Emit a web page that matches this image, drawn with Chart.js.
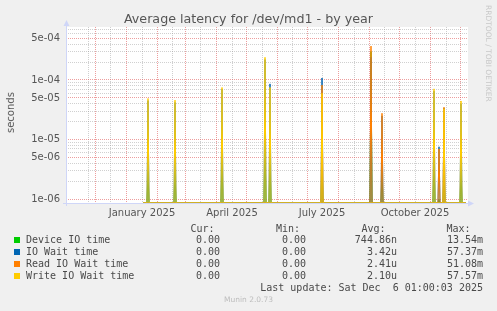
<!DOCTYPE html>
<html><head><meta charset="utf-8">
<script src="https://cdn.jsdelivr.net/npm/chart.js@4/dist/chart.umd.min.js"></script>
<style>
html,body{margin:0;padding:0;background:#F0F0F0;}
#wrap{position:relative;width:497px;height:311px;overflow:hidden;background:#F0F0F0;}
canvas{position:absolute;left:0;top:0;}
.m{position:absolute;white-space:pre;font-family:"DejaVu Sans Mono",monospace;font-size:10px;line-height:12px;color:#4a4a4a;}
.r{text-align:right;}
.sq{position:absolute;width:6px;height:6px;}
#title{position:absolute;left:0;width:497px;top:11px;text-align:center;font-family:"DejaVu Sans",sans-serif;font-size:12.7px;line-height:16px;color:#555;}
#ylab{position:absolute;left:5px;top:85px;width:12px;height:56px;writing-mode:vertical-rl;transform:rotate(180deg);text-align:center;font-family:"DejaVu Sans",sans-serif;font-size:10px;line-height:12px;color:#555;white-space:nowrap;}
#rrd{position:absolute;left:483px;top:5px;writing-mode:vertical-rl;font-family:"DejaVu Sans",sans-serif;font-size:7.5px;line-height:10px;color:#c8c8c8;white-space:nowrap;}
#munin{position:absolute;left:0;width:497px;top:295px;text-align:center;font-family:"DejaVu Sans",sans-serif;font-size:7.5px;line-height:10px;color:#bdbdbd;}
</style></head>
<body>
<div id="wrap">
<canvas id="c" width="497" height="311"></canvas>
<div id="title">Average latency for /dev/md1 - by year</div>
<div id="ylab">seconds</div>
<div id="rrd">RRDTOOL / TOBI OETIKER</div>
<div id="legend"></div>
<div id="munin">Munin 2.0.73</div>
</div>
<script>
// ---- data (day index 0 = left edge of plot, ~2 Nov 2024) ----
const seriesNames = ["Device IO time", "IO Wait time", "Read IO Wait time", "Write IO Wait time"];
const seriesColors = ["#00CC00", "#0066B3", "#FF8000", "#FFCC00"];
const dataStartDay = 77;
const dataEndDay = 400;
const spikeDays = [82, 109, 156, 199, 204, 256, 305, 316, 368, 373, 378, 395];
const deviceIO  = [3e-6, 3e-6, 5e-6, 1e-5, 5e-6, 5e-6, 3.0e-4, 3e-6, 5e-6, 1e-6, 3e-6, 3e-6];
const ioWait    = [4.5e-5, 4.2e-5, 7.0e-5, 2.2e-4, 8.6e-5, 1.08e-4, 2.4e-4, 2.5e-5, 6.5e-5, 7.6e-6, 3.4e-5, 4.0e-5];
const readWait  = [0, 0, 0, 0, 0, 8.2e-5, 3.7e-4, 2.77e-5, 0, 7.0e-6, 3.5e-5, 0];
const writeWait = [4.9e-5, 4.6e-5, 7.5e-5, 2.4e-4, 7.5e-5, 6.0e-5, 0, 0, 7.1e-5, 0, 3.3e-5, 4.45e-5];

const curVals = ["0.00", "0.00", "0.00", "0.00"];
const minVals = ["0.00", "0.00", "0.00", "0.00"];
const avgVals = ["744.86n", "3.42u", "2.41u", "2.10u"];
const maxVals = ["13.54m", "57.37m", "51.08m", "57.57m"];
const lastUpdate = "Last update: Sat Dec  6 01:00:03 2025";

// ticks
const monthStartDays = [29, 60, 91, 119, 150, 180, 211, 241, 272, 303, 333, 364, 394];
const midMonthDays   = [22, 44, 76, 106, 134, 166, 196, 226, 256, 288, 318, 349, 380];
const xLabelDays     = [76, 166, 256, 349];
const xLabels        = ["January 2025", "April 2025", "July 2025", "October 2025"];
const yMajorVals   = [1e-6, 5e-6, 1e-5, 5e-5, 1e-4, 5e-4];
const yTickLabels  = ["1e-06", "5e-06", "1e-05", "5e-05", "1e-04", "5e-04"];
const yMinorMant   = [2, 3, 4, 6, 7, 8, 9];
const yDecades     = [1e-6, 1e-5, 1e-4];
const yAxisMin = 8.67e-7, yAxisMax = 7.73e-4;

// zero cannot sit on a log axis: like rrdtool, it is drawn on the axis floor
function buildSeries(vals) {
  const pts = [];
  for (let d = dataStartDay; d <= dataEndDay; d++) {
    const i = spikeDays.indexOf(d);
    const v = i >= 0 ? vals[i] : 0;
    pts.push({x: d, y: v > 0 ? v : yAxisMin});
  }
  return pts;
}
const allVals = [deviceIO, ioWait, readWait, writeWait];

const MGRID = "rgba(222,79,79,0.55)";
const GRID = "rgba(143,143,143,0.42)";
const AXIS = "#CFD6F8";

function isMajorY(v) { return yMajorVals.some(m => Math.abs(m - v) / m < 1e-6); }

const frame = {
  id: "frame",
  beforeDraw(c) {
    const a = c.chartArea, x = c.ctx;
    x.save(); x.fillStyle = "#fff"; x.fillRect(a.left, a.top, a.right - a.left, a.bottom - a.top); x.restore();
  },
  beforeDatasetsDraw(c) {
    const a = c.chartArea, x = c.ctx;
    x.save();
    x.strokeStyle = AXIS; x.fillStyle = AXIS; x.lineWidth = 1;
    x.beginPath();
    x.moveTo(a.left + 0.5, a.bottom + 3); x.lineTo(a.left + 0.5, a.top - 3);
    x.moveTo(a.left - 3, a.bottom + 0.5); x.lineTo(a.right + 2, a.bottom + 0.5);
    x.stroke();
    x.beginPath(); x.moveTo(a.left + 0.5, a.top - 7); x.lineTo(a.left - 2.5, a.top - 1); x.lineTo(a.left + 3.5, a.top - 1); x.closePath(); x.fill();
    x.beginPath(); x.moveTo(a.right + 6, a.bottom + 0.5); x.lineTo(a.right, a.bottom - 2.5); x.lineTo(a.right, a.bottom + 3.5); x.closePath(); x.fill();
    x.restore();
  }
};

function xCol(ctx) {
  const s = ctx.chart.scales.x;
  const t = ctx.tick || (s && s.ticks && s.ticks[ctx.index]);
  return (t && monthStartDays.includes(Math.round(t.value))) ? MGRID : GRID;
}
function yCol(ctx) {
  const s = ctx.chart.scales.y;
  const t = ctx.tick || (s && s.ticks && s.ticks[ctx.index]);
  return (t && isMajorY(t.value)) ? MGRID : GRID;
}

new Chart(document.getElementById("c"), {
  type: "line",
  data: {
    datasets: seriesNames.map((n, i) => ({
      label: n,
      data: buildSeries(allVals[i]),
      borderColor: seriesColors[i],
      backgroundColor: seriesColors[i],
      borderWidth: 1,
      pointRadius: 0,
      tension: 0,
      clip: {left: 2, right: 2, top: 2, bottom: 0},
      order: 3 - i
    }))
  },
  options: {
    responsive: false,
    animation: false,
    devicePixelRatio: 1,
    layout: {padding: {top: 27, right: 29, left: 0, bottom: 0}},
    plugins: {legend: {display: false}, title: {display: false}, tooltip: {enabled: false}},
    scales: {
      x: {
        type: "linear", min: 0, max: 402,
        afterFit: s => { s.height = 108; },
        afterBuildTicks: s => {
          s.ticks = monthStartDays.concat(midMonthDays).sort((a, b) => a - b).map(v => ({value: v}));
        },
        grid: {drawTicks: false, lineWidth: 1, color: xCol},
        border: {display: false, dash: [1, 1]},
        ticks: {
          autoSkip: false, maxRotation: 0, padding: 4,
          font: {family: "DejaVu Sans", size: 10}, color: "#555",
          callback: v => { const i = xLabelDays.indexOf(v); return i >= 0 ? xLabels[i] : ""; }
        }
      },
      y: {
        type: "logarithmic", min: yAxisMin, max: yAxisMax,
        afterFit: s => { s.width = 66; },
        afterBuildTicks: s => {
          const vals = [];
          yDecades.forEach(d => { vals.push(d); yMinorMant.forEach(m => { if (m === 5) return; vals.push(m * d); }); vals.push(5 * d); });
          s.ticks = vals.filter(v => v >= s.min && v <= s.max).sort((a, b) => a - b).map(v => ({value: v}));
        },
        grid: {drawTicks: false, lineWidth: 1, color: yCol},
        border: {display: false, dash: [1, 1]},
        ticks: {
          autoSkip: false, padding: 6,
          font: {family: "DejaVu Sans", size: 10}, color: "#555",
          callback: v => { const i = yMajorVals.findIndex(m => Math.abs(m - v) / m < 1e-6); return i >= 0 ? yTickLabels[i] : ""; }
        }
      }
    }
  },
  plugins: [frame]
});

// legend (HTML text)
const lg = document.getElementById("legend");
function cell(txt, x, y, right) {
  const d = document.createElement("div");
  d.className = "m" + (right ? " r" : "");
  d.textContent = txt;
  if (right) { d.style.right = (497 - x) + "px"; } else { d.style.left = x + "px"; }
  d.style.top = (y - 6) + "px";
  lg.appendChild(d);
}
const headerY = 228.5, rowY0 = 240, rowStep = 12;
cell("Cur:", 214.5, headerY, true);
cell("Min:", 300, headerY, true);
cell("Avg:", 385.5, headerY, true);
cell("Max:", 470.5, headerY, true);
seriesNames.forEach((n, i) => {
  const y = rowY0 + i * rowStep;
  const sq = document.createElement("div");
  sq.className = "sq"; sq.style.left = "14px"; sq.style.top = (y - 3) + "px"; sq.style.background = seriesColors[i];
  lg.appendChild(sq);
  cell(n, 26, y, false);
  cell(curVals[i], 220, y, true);
  cell(minVals[i], 306, y, true);
  cell(avgVals[i], 397, y, true);
  cell(maxVals[i], 483, y, true);
});
cell(lastUpdate, 483, rowY0 + 4 * rowStep, true);
</script>
</body></html>
